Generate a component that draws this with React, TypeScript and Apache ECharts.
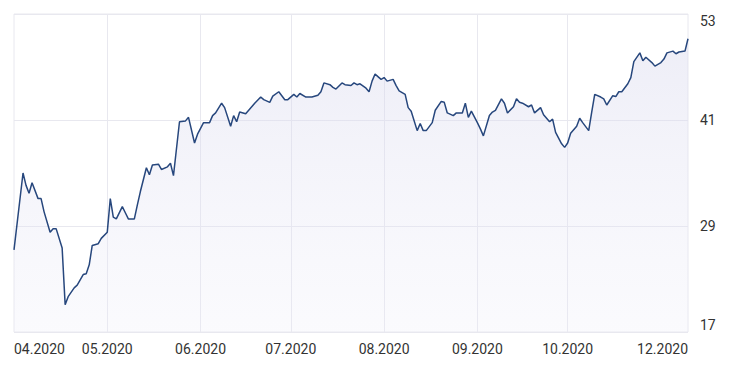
import React, { useEffect, useRef } from "react";
import * as echarts from "echarts";

const startDate = "2020-03-31";
const endDate = "2020-11-10";

const xTickDates = ["2020-03-31", "2020-05-01", "2020-06-01", "2020-07-01", "2020-08-01", "2020-09-01", "2020-10-01", "2020-11-10"];
const xTickLabels = ["04.2020", "05.2020", "06.2020", "07.2020", "08.2020", "09.2020", "10.2020", "12.2020"];
const gridDates = ["2020-05-01", "2020-06-01", "2020-07-01", "2020-08-01", "2020-09-01", "2020-10-01"];

const yMin = 17;
const yMax = 53;
const yStep = 12;

const dates = [
  "2020-03-31", "2020-04-03", "2020-04-04", "2020-04-05", "2020-04-06", "2020-04-08", "2020-04-09", "2020-04-10",
  "2020-04-12", "2020-04-13", "2020-04-14", "2020-04-16", "2020-04-17", "2020-04-18", "2020-04-20", "2020-04-21",
  "2020-04-23", "2020-04-24", "2020-04-25", "2020-04-26", "2020-04-28", "2020-04-29", "2020-05-01", "2020-05-02",
  "2020-05-03", "2020-05-04", "2020-05-06", "2020-05-07", "2020-05-08", "2020-05-10", "2020-05-11", "2020-05-12",
  "2020-05-14", "2020-05-15", "2020-05-16", "2020-05-18", "2020-05-19", "2020-05-21", "2020-05-22", "2020-05-23",
  "2020-05-25", "2020-05-27", "2020-05-28", "2020-05-30", "2020-05-31", "2020-06-02", "2020-06-04", "2020-06-05",
  "2020-06-06", "2020-06-08", "2020-06-09", "2020-06-11", "2020-06-12", "2020-06-13", "2020-06-14", "2020-06-16",
  "2020-06-17", "2020-06-19", "2020-06-21", "2020-06-22", "2020-06-24", "2020-06-25", "2020-06-27", "2020-06-29",
  "2020-06-30", "2020-07-02", "2020-07-03", "2020-07-04", "2020-07-06", "2020-07-08", "2020-07-10", "2020-07-11",
  "2020-07-12", "2020-07-14", "2020-07-15", "2020-07-16", "2020-07-18", "2020-07-19", "2020-07-21", "2020-07-22",
  "2020-07-23", "2020-07-24", "2020-07-26", "2020-07-27", "2020-07-28", "2020-07-29", "2020-07-31", "2020-08-01",
  "2020-08-02", "2020-08-04", "2020-08-05", "2020-08-06", "2020-08-08", "2020-08-09", "2020-08-10", "2020-08-12",
  "2020-08-13", "2020-08-14", "2020-08-15", "2020-08-17", "2020-08-18", "2020-08-20", "2020-08-21", "2020-08-22",
  "2020-08-24", "2020-08-25", "2020-08-27", "2020-08-28", "2020-08-29", "2020-08-30", "2020-09-01", "2020-09-02",
  "2020-09-03", "2020-09-05", "2020-09-06", "2020-09-07", "2020-09-09", "2020-09-10", "2020-09-11", "2020-09-13",
  "2020-09-14", "2020-09-15", "2020-09-16", "2020-09-18", "2020-09-19", "2020-09-20", "2020-09-22", "2020-09-23",
  "2020-09-25", "2020-09-26", "2020-09-27", "2020-09-29", "2020-09-30", "2020-10-01", "2020-10-02", "2020-10-04",
  "2020-10-05", "2020-10-06", "2020-10-08", "2020-10-09", "2020-10-10", "2020-10-12", "2020-10-13", "2020-10-14",
  "2020-10-16", "2020-10-17", "2020-10-18", "2020-10-19", "2020-10-21", "2020-10-22", "2020-10-23", "2020-10-25",
  "2020-10-26", "2020-10-27", "2020-10-29", "2020-10-30", "2020-11-01", "2020-11-02", "2020-11-03", "2020-11-05",
  "2020-11-06", "2020-11-07", "2020-11-09", "2020-11-10",
];

const values = [
  26.3, 35.0, 33.6, 32.7, 33.9, 32.1, 32.1, 30.6,
  28.3, 28.7, 28.7, 26.5, 20.1, 21.0, 22.0, 22.3,
  23.5, 23.6, 24.6, 26.8, 27.0, 27.6, 28.3, 32.1,
  30.0, 29.8, 31.2, 30.5, 29.8, 29.8, 31.4, 32.9,
  35.6, 34.8, 35.9, 36.0, 35.4, 35.7, 36.1, 34.7,
  40.8, 40.9, 41.3, 38.4, 39.4, 40.7, 40.7, 41.5,
  41.8, 42.9, 42.4, 40.3, 41.5, 40.8, 41.9, 41.7,
  42.1, 42.9, 43.6, 43.3, 43.0, 43.7, 44.2, 43.3,
  43.3, 43.9, 43.6, 44.0, 43.6, 43.6, 43.8, 44.2,
  45.2, 45.0, 44.7, 44.5, 45.2, 45.0, 44.9, 45.2,
  45.0, 45.1, 44.6, 44.2, 45.4, 46.2, 45.6, 45.8,
  45.4, 45.6, 44.9, 44.3, 43.9, 42.4, 42.0, 39.8,
  40.6, 39.8, 39.8, 40.7, 42.1, 43.1, 43.0, 41.8,
  41.5, 41.8, 41.8, 42.9, 41.3, 42.0, 40.7, 40.0,
  39.2, 41.5, 41.9, 42.1, 43.4, 42.9, 41.8, 42.5,
  43.4, 43.0, 42.9, 42.5, 42.7, 41.8, 42.4, 41.6,
  40.8, 41.1, 39.6, 38.3, 37.9, 38.4, 39.5, 40.3,
  41.2, 40.7, 39.8, 41.9, 43.9, 43.6, 43.4, 42.7,
  43.75, 43.65, 44.2, 44.2, 45.1, 45.8, 47.6, 48.6,
  47.7, 48.1, 47.5, 47.1, 47.5, 47.9, 48.6, 48.8,
  48.5, 48.7, 48.8, 50.2,
];

function buildCategories(): string[] {
  const out: string[] = [];
  const d = new Date(startDate + "T00:00:00Z");
  const end = new Date(endDate + "T00:00:00Z");
  while (d.getTime() <= end.getTime()) {
    out.push(d.toISOString().slice(0, 10));
    d.setUTCDate(d.getUTCDate() + 1);
  }
  return out;
}

export default function App() {
  const ref = useRef<HTMLDivElement>(null);

  useEffect(() => {
    if (!ref.current) return;
    const chart = echarts.init(ref.current, undefined, { renderer: "svg" });
    const categories = buildCategories();
    const seriesData = dates.map((d, i) => [d, values[i]]);

    chart.setOption({
      animation: false,
      backgroundColor: "#ffffff",
      grid: {
        left: 14,
        right: 43,
        top: 14,
        bottom: 39,
        show: true,
        borderColor: "#e8e8ef",
        borderWidth: 1,
        backgroundColor: "transparent",
      },
      xAxis: {
        type: "category",
        data: categories,
        boundaryGap: false,
        axisLine: { show: false },
        axisTick: { show: false },
        axisLabel: {
          interval: (_i: number, v: string) => xTickDates.includes(v),
          formatter: (v: string) => {
            const k = xTickDates.indexOf(v);
            return k >= 0 ? xTickLabels[k] : "";
          },
          color: "#333333",
          fontSize: 14,
          fontFamily: "Roboto",
          margin: 10,
          alignMinLabel: "left",
          alignMaxLabel: "right",
        },
        splitLine: {
          show: true,
          interval: (_i: number, v: string) => gridDates.includes(v),
          lineStyle: { color: "#e8e8ef", width: 1 },
        },
      },
      yAxis: {
        type: "value",
        position: "right",
        min: yMin,
        max: yMax,
        interval: yStep,
        axisLine: { show: false },
        axisTick: { show: false },
        axisLabel: {
          color: "#333333",
          fontSize: 14,
          fontFamily: "Roboto",
          margin: 12,
          verticalAlignMaxLabel: "top",
          verticalAlignMinLabel: "bottom",
        },
        splitLine: { show: true, lineStyle: { color: "#e8e8ef", width: 1 } },
      },
      series: [
        {
          type: "line",
          data: seriesData,
          showSymbol: false,
          symbol: "none",
          lineStyle: { color: "#27477d", width: 1.5 },
          areaStyle: {
            color: new echarts.graphic.LinearGradient(0, 0, 0, 1, [
              { offset: 0, color: "rgba(214,214,236,0.6)" },
              { offset: 1, color: "rgba(236,236,248,0.35)" },
            ]),
          },
        },
      ],
    });

    return () => chart.dispose();
  }, []);

  return (
    <div
      ref={ref}
      style={{ position: "fixed", left: 0, top: 0, width: 731, height: 371 }}
    />
  );
}
